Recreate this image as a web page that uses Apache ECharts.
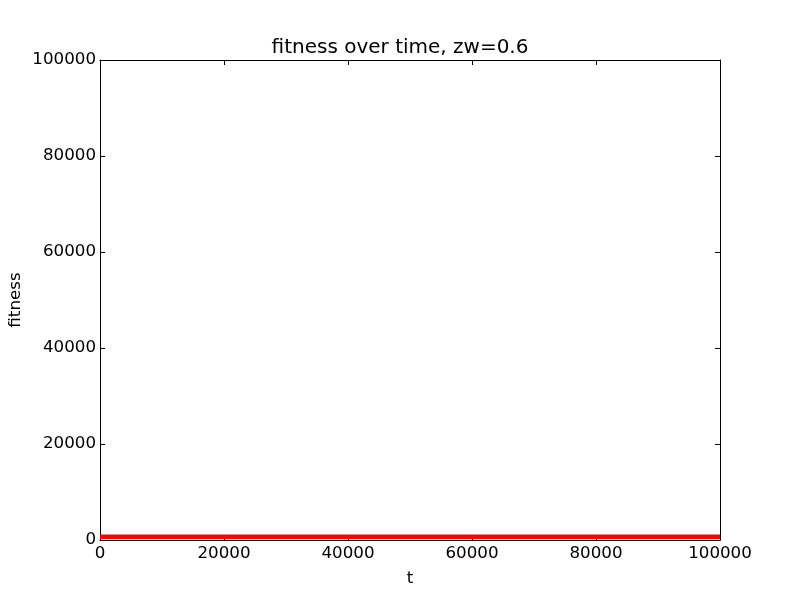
<!DOCTYPE html>
<html>
<head>
<meta charset="utf-8">
<script src="https://cdn.jsdelivr.net/npm/echarts@6/dist/echarts.min.js"></script>
<style>html,body{margin:0;padding:0;background:#fff}#c{width:800px;height:600px}</style>
</head>
<body>
<div id="c"></div>
<script>
const timeSteps = [0,2500,5000,7500,10000,12500,15000,17500,20000,22500,25000,27500,30000,32500,35000,37500,40000,42500,45000,47500,50000,52500,55000,57500,60000,62500,65000,67500,70000,72500,75000,77500,80000,82500,85000,87500,90000,92500,95000,97500,100000];
const fitnessValues = [660,665,655,660,670,660,665,655,668,658,662,666,656,664,670,660,655,668,662,656,664,670,658,660,668,656,664,660,670,662,655,665,668,658,662,670,656,664,660,668,660];
const xTicks = [0,20000,40000,60000,80000,100000];
const yTicks = [0,20000,40000,60000,80000,100000];

const font = 'DejaVu Sans';
const chart = echarts.init(document.getElementById('c'), null, {renderer:'canvas'});
const axisCommon = {
  type:'value', min:0, max:100000, interval:20000,
  axisLine:{show:true, onZero:false, lineStyle:{color:'#000', width:1}},
  axisTick:{show:true, inside:true, length:5, lineStyle:{color:'#000'}},
  splitLine:{show:false}
};
chart.setOption({
  animation:false,
  backgroundColor:'#fff',
  title:{text:'fitness over time, zw=0.6', left:'center', top:33, textStyle:{fontFamily:font, fontSize:20, fontWeight:'normal', color:'#000'}},
  grid:{left:100, right:80, top:60, bottom:60, containLabel:false, outerBoundsMode:'none'},
  xAxis:[
    Object.assign({}, axisCommon, {position:'bottom', name:'t', nameLocation:'middle', nameGap:30, nameMoveOverlap:false,
      nameTextStyle:{fontFamily:font, fontSize:16.7, color:'#000'},
      axisLabel:{fontFamily:font, fontSize:16.7, color:'#000', margin:5, formatter:v=>xTicks.includes(v)?String(v):''}}),
    Object.assign({}, axisCommon, {position:'top', axisLabel:{show:false}})
  ],
  yAxis:[
    Object.assign({}, axisCommon, {position:'left', name:'fitness', nameLocation:'middle', nameGap:76, nameMoveOverlap:false,
      nameTextStyle:{fontFamily:font, fontSize:16.7, color:'#000'},
      axisLabel:{fontFamily:font, fontSize:16.7, color:'#000', margin:4, formatter:v=>yTicks.includes(v)?String(v):''}}),
    Object.assign({}, axisCommon, {position:'right', axisLabel:{show:false}})
  ],
  series:[{
    type:'line', xAxisIndex:0, yAxisIndex:0, symbol:'none',
    data: timeSteps.map((t,i)=>[t, fitnessValues[i]]),
    lineStyle:{color:'#ff0000', width:4.5}
  }]
});
</script>
</body>
</html>
